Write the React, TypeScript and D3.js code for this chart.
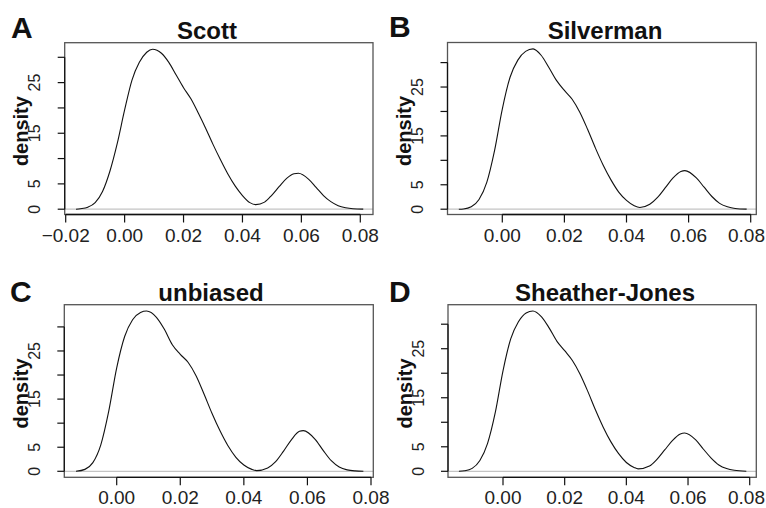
import React from "react";
import { scaleLinear, line, curveMonotoneX } from "d3";

// density estimates, one pair of arrays per bandwidth rule
const scottX = [-0.0165, -0.015, -0.0125, -0.01, -0.0075, -0.005, -0.0025, 0, 0.0025, 0.005, 0.0075, 0.0095, 0.0125, 0.015, 0.0175, 0.02, 0.0225, 0.025, 0.0275, 0.03, 0.0325, 0.035, 0.0375, 0.04, 0.0425, 0.0445, 0.0475, 0.05, 0.0525, 0.055, 0.0575, 0.059, 0.0625, 0.065, 0.0675, 0.07, 0.0725, 0.075, 0.0775, 0.081];
const scottY = [0, 0.1, 0.4, 1.3, 3.5, 7.5, 13, 19.6, 25.5, 29.0, 31.0, 31.6, 30.8, 29.0, 26.5, 24.0, 21.8, 19.0, 16.0, 12.8, 9.8, 7.0, 4.6, 2.7, 1.3, 0.9, 1.4, 2.8, 4.5, 6.1, 7.0, 7.1, 5.9, 4.3, 2.7, 1.5, 0.7, 0.3, 0.1, 0.02];

const silverX = [-0.014, -0.0125, -0.01, -0.0075, -0.005, -0.0025, 0, 0.0025, 0.005, 0.0075, 0.0099, 0.0125, 0.015, 0.0175, 0.02, 0.0225, 0.025, 0.0275, 0.03, 0.0325, 0.035, 0.0375, 0.04, 0.0425, 0.0443, 0.0475, 0.05, 0.0525, 0.055, 0.0575, 0.0588, 0.0625, 0.065, 0.0675, 0.07, 0.0725, 0.075, 0.0787];
const silverY = [0, 0.05, 0.5, 2.0, 5.5, 12, 20.5, 27, 30.5, 32.3, 32.8, 31.5, 29.0, 26.3, 24.3, 22.5, 19.8, 16.3, 12.5, 9.0, 6.0, 3.5, 1.8, 0.7, 0.35, 1.0, 2.4, 4.4, 6.4, 7.7, 7.9, 6.4, 4.5, 2.6, 1.2, 0.5, 0.15, 0.01];

const unbX = [-0.0128, -0.01, -0.0075, -0.005, -0.0025, 0, 0.0025, 0.005, 0.0075, 0.0094, 0.0125, 0.015, 0.0175, 0.02, 0.0225, 0.025, 0.0275, 0.03, 0.0325, 0.035, 0.0375, 0.04, 0.0425, 0.044, 0.0475, 0.05, 0.0525, 0.055, 0.0575, 0.0587, 0.0625, 0.065, 0.0675, 0.07, 0.0725, 0.075, 0.0776];
const unbY = [0, 0.4, 1.8, 5.5, 12.5, 21.5, 28, 31.5, 33.0, 33.3, 32.0, 29.5, 26.3, 24.3, 22.6, 19.8, 16.0, 12.0, 8.4, 5.3, 2.9, 1.3, 0.4, 0.15, 0.7, 2.0, 4.2, 6.6, 8.3, 8.45, 6.6, 4.3, 2.2, 0.9, 0.3, 0.08, 0.01];

const sjX = [-0.0143, -0.0125, -0.01, -0.0075, -0.005, -0.0025, 0, 0.0025, 0.005, 0.0075, 0.0097, 0.0125, 0.015, 0.0175, 0.02, 0.0225, 0.025, 0.0275, 0.03, 0.0325, 0.035, 0.0375, 0.04, 0.0425, 0.0438, 0.0475, 0.05, 0.0525, 0.055, 0.0575, 0.0589, 0.0625, 0.065, 0.0675, 0.07, 0.0725, 0.075, 0.0789];
const sjY = [0, 0.1, 0.6, 2.2, 5.7, 12, 20.5, 27, 30.5, 32.3, 32.7, 31.5, 29.2, 26.5, 24.6, 22.6, 19.8, 16.3, 12.5, 9.0, 6.0, 3.6, 1.8, 0.8, 0.5, 1.1, 2.5, 4.4, 6.3, 7.6, 7.8, 6.4, 4.5, 2.7, 1.3, 0.55, 0.2, 0.02];

const xTicksA = [-0.02, 0, 0.02, 0.04, 0.06, 0.08];
const xTicks = [0, 0.02, 0.04, 0.06, 0.08];
const yTicks = [0, 5, 10, 15, 20, 25, 30];
const yLabelled = [0, 5, 15, 25];

const FONT = "'Liberation Sans', Arial, Helvetica, sans-serif";
const W = 766;

const fmtX = (v) => (v < 0 ? "\u2212" : "") + Math.abs(v).toFixed(2);

function Panel({ letter, title, xs, ys, ticks, box, xr, yr, titleX, letterX, letterY }) {
    const [left, top, right, bottom] = box;
    const x = scaleLinear().domain([ticks[0], 0.08]).range(xr);
    const y = scaleLinear().domain([0, 30]).range(yr);
    const pts = xs.map((v, i) => [v, ys[i]]);
    const path = line().x(d => x(d[0])).y(d => y(d[1])).curve(curveMonotoneX)(pts);
    const midY = (top + bottom) / 2 + 2.5;

    return (
        <g>
            <text x={letterX} y={letterY} fontSize={30} fontWeight="bold" fontFamily={FONT} fill="#111">{letter}</text>
            <text x={titleX} y={top - 4} fontSize={24} fontWeight="bold" fontFamily={FONT} textAnchor="middle" fill="#111">{title}</text>

            <line x1={left} x2={right} y1={y(0)} y2={y(0)} stroke="#c4c4c4" strokeWidth={1.2} />
            <path d={path} fill="none" stroke="#111" strokeWidth={1.1} />

            <rect x={left} y={top} width={right - left} height={bottom - top} fill="none" stroke="#555" strokeWidth={1.3} />

            {/* x axis */}
            <line x1={x(ticks[0])} x2={x(0.08)} y1={bottom} y2={bottom} stroke="#111" strokeWidth={1.3} />
            {ticks.map(t => {
                const px = x(t);
                const tooFar = px + 19 > W;
                return (
                    <g key={t}>
                        <line x1={px} x2={px} y1={bottom} y2={bottom + 8} stroke="#111" strokeWidth={1.2} />
                        <text x={tooFar ? W - 1 : px} y={bottom + 27} fontSize={19} fontFamily={FONT}
                            textAnchor={tooFar ? "end" : "middle"} fill="#222">{fmtX(t)}</text>
                    </g>
                );
            })}

            {/* y axis */}
            <line x1={left} x2={left} y1={y(0)} y2={y(30)} stroke="#111" strokeWidth={1.2} />
            {yTicks.map(t => (
                <line key={t} x1={left - 7} x2={left} y1={y(t)} y2={y(t)} stroke="#111" strokeWidth={1.2} />
            ))}
            {yLabelled.map(t => (
                <text key={t} transform={`translate(${left - 24.5},${y(t)}) rotate(-90)`} fontSize={16} fontFamily={FONT} textAnchor="middle" fill="#222">{t}</text>
            ))}
            <text transform={`translate(${left - 36.5},${midY}) rotate(-90)`} fontSize={20} fontWeight="bold" fontFamily={FONT} textAnchor="middle" fill="#111">density</text>
        </g>
    );
}

export default function App() {
    return (
        <svg width={W} height={508} style={{ position: "absolute", left: 0, top: 0, background: "#fff" }}>
            <rect width={W} height={508} fill="#fff" />
            <Panel letter="A" title="Scott" xs={scottX} ys={scottY} ticks={xTicksA}
                box={[64.7, 42.7, 373, 214.5]} xr={[65.7, 360.3]} yr={[209.2, 57.3]} titleX={207} letterX={11} letterY={38} />
            <Panel letter="B" title="Silverman" xs={silverX} ys={silverY} ticks={xTicks}
                box={[447.5, 42.5, 756.3, 214.5]} xr={[502.3, 750.7]} yr={[209.2, 62.6]} titleX={605} letterX={389} letterY={37} />
            <Panel letter="C" title="unbiased" xs={unbX} ys={unbY} ticks={xTicks}
                box={[64.3, 304.7, 373.3, 477.3]} xr={[116.7, 371]} yr={[471.3, 326.9]} titleX={211} letterX={10} letterY={302} />
            <Panel letter="D" title="Sheather-Jones" xs={sjX} ys={sjY} ticks={xTicks}
                box={[448, 304.7, 756.3, 477.3]} xr={[503, 749.7]} yr={[471.3, 324.2]} titleX={605} letterX={389} letterY={302} />
        </svg>
    );
}
